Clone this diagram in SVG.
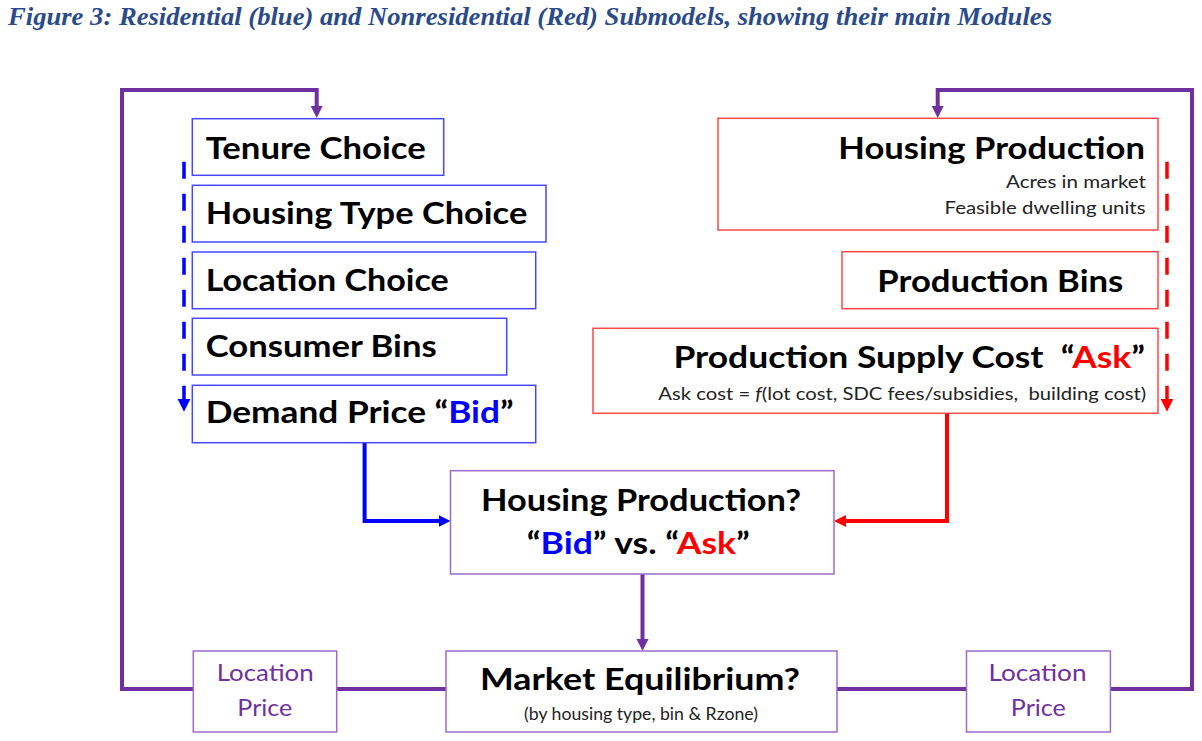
<svg xmlns="http://www.w3.org/2000/svg" width="1202" height="741" viewBox="0 0 1202 741">
<style>
.t{font-family:Lato,"Open Sans","Liberation Sans",sans-serif;font-weight:bold;font-size:30px;fill:#000}
.s{font-family:Lato,"Open Sans","Liberation Sans",sans-serif;font-size:17px;fill:#222}
.lp{font-family:Lato,"Open Sans","Liberation Sans",sans-serif;font-size:23px;fill:#7030A0}
.bb{fill:#fff;stroke:#4747FF;stroke-width:1.5}
.rb{fill:#fff;stroke:#FF4747;stroke-width:1.5}
.pb{fill:#fff;stroke:#9B6BCB;stroke-width:1.5}
.blue{fill:#0000FF}
.red{fill:#FF0000}
.pl{fill:none;stroke:#7030A0;stroke-width:4}
.bl{fill:none;stroke:#0000FF;stroke-width:4}
.rl{fill:none;stroke:#FF0000;stroke-width:4}
.bd{fill:none;stroke:#0000FF;stroke-width:3.5;stroke-dasharray:17 15}
.rd{fill:none;stroke:#FF0000;stroke-width:3.5;stroke-dasharray:17 15}
</style>
<defs>
<marker id="ap" markerUnits="userSpaceOnUse" markerWidth="14" markerHeight="14" refX="4" refY="6" orient="auto"><path d="M0,0 L12,6 L0,12 z" fill="#7030A0"/></marker>
<marker id="ab" markerUnits="userSpaceOnUse" markerWidth="14" markerHeight="14" refX="4" refY="6" orient="auto"><path d="M0,0 L12,6 L0,12 z" fill="#0000FF"/></marker>
<marker id="ar" markerUnits="userSpaceOnUse" markerWidth="14" markerHeight="14" refX="4" refY="6" orient="auto"><path d="M0,0 L12,6 L0,12 z" fill="#FF0000"/></marker>
<marker id="abs" markerUnits="userSpaceOnUse" markerWidth="14" markerHeight="15" refX="4" refY="6.5" orient="auto-start-reverse"><path d="M0,0 L13,6.5 L0,13 z" fill="#0000FF"/></marker>
<marker id="ars" markerUnits="userSpaceOnUse" markerWidth="14" markerHeight="15" refX="4" refY="6.5" orient="auto-start-reverse"><path d="M0,0 L13,6.5 L0,13 z" fill="#FF0000"/></marker>
</defs>
<rect width="1202" height="741" fill="#fff"/>
<text x="8" y="25" font-family="Liberation Serif" font-style="italic" font-weight="bold" font-size="25" fill="#2A4A8A" textLength="1044" lengthAdjust="spacingAndGlyphs">Figure 3: Residential (blue) and Nonresidential (Red) Submodels, showing their main Modules</text>

<g id="connectors">
<path class="pl" d="M193.3,689 H122 V90 H316.7 V110" marker-end="url(#ap)"/>
<path class="pl" d="M1110.4,689 H1192 V90 H937.7 V110" marker-end="url(#ap)"/>
<path class="pl" d="M336.7,689 H446"/>
<path class="pl" d="M837,689 H966.5"/>
<path class="pl" d="M642.5,574 V643" marker-end="url(#ap)"/>
<path class="bl" d="M364.6,442.7 V521 H442.5" marker-end="url(#ab)"/>
<path class="rl" d="M947,413.3 V521 H842" marker-end="url(#ar)"/>
<path class="bd" d="M184,402.7 V146.7" marker-start="url(#abs)"/>
<path class="rd" d="M1167,402.7 V146.7" marker-start="url(#ars)"/>
</g>

<g id="tenure"><rect class="bb" x="192.3" y="118.7" width="251.4" height="56.6"/><text class="t" x="205.7" y="158.7" textLength="220" lengthAdjust="spacingAndGlyphs">Tenure Choice</text></g>
<g id="housingType"><rect class="bb" x="192.3" y="185.3" width="353.7" height="56.7"/><text class="t" x="205.7" y="223.7" textLength="321.6" lengthAdjust="spacingAndGlyphs">Housing Type Choice</text></g>
<g id="location"><rect class="bb" x="192.3" y="252" width="343.4" height="56.7"/><text class="t" x="205.7" y="291" textLength="243" lengthAdjust="spacingAndGlyphs">Location Choice</text></g>
<g id="consumerBins"><rect class="bb" x="192.3" y="318.3" width="314.4" height="56.7"/><text class="t" x="205.7" y="356.7" textLength="231" lengthAdjust="spacingAndGlyphs">Consumer Bins</text></g>
<g id="demandPrice"><rect class="bb" x="192.3" y="385.3" width="343.4" height="57.4"/><text class="t" x="205.7" y="423.3" textLength="308" lengthAdjust="spacingAndGlyphs">Demand Price “<tspan class="blue">Bid</tspan>”</text></g>

<g id="housingProduction"><rect class="rb" x="718" y="118.3" width="440" height="111.7"/>
<text class="t" x="838.3" y="158.7" textLength="306.7" lengthAdjust="spacingAndGlyphs">Housing Production</text>
<text class="s" x="1006" y="188.3" textLength="140" lengthAdjust="spacingAndGlyphs">Acres in market</text>
<text class="s" x="944.5" y="214.3" textLength="201" lengthAdjust="spacingAndGlyphs">Feasible dwelling units</text></g>
<g id="productionBins"><rect class="rb" x="842" y="251.7" width="316" height="57"/><text class="t" x="877.3" y="291.7" textLength="246" lengthAdjust="spacingAndGlyphs">Production Bins</text></g>
<g id="supplyCost"><rect class="rb" x="593" y="328.3" width="565" height="85"/>
<text class="t" x="673.4" y="368.3" textLength="471.6" lengthAdjust="spacingAndGlyphs" xml:space="preserve">Production Supply Cost  “<tspan class="red">Ask</tspan>”</text>
<text class="s" x="658.3" y="400" textLength="488" lengthAdjust="spacingAndGlyphs" xml:space="preserve">Ask cost = <tspan font-style="italic">f</tspan>(lot cost, SDC fees/subsidies,  building cost)</text></g>

<g id="bidVsAsk"><rect class="pb" x="450.5" y="470.7" width="383.5" height="103.3"/>
<text class="t" x="481" y="511" textLength="320" lengthAdjust="spacingAndGlyphs">Housing Production?</text>
<text class="t" x="526.8" y="554" textLength="223" lengthAdjust="spacingAndGlyphs">“<tspan class="blue">Bid</tspan>” vs. “<tspan class="red">Ask</tspan>”</text></g>

<g id="marketEquilibrium"><rect class="pb" x="446" y="651" width="391" height="81"/>
<text class="t" x="480" y="690" textLength="320" lengthAdjust="spacingAndGlyphs">Market Equilibrium?</text>
<text class="s" x="524" y="720" font-size="15" textLength="234" lengthAdjust="spacingAndGlyphs">(by housing type, bin &amp; Rzone)</text></g>

<g id="locationPriceLeft"><rect class="pb" x="193.3" y="651" width="143.4" height="81"/>
<text class="lp" x="216.7" y="680.7" textLength="97" lengthAdjust="spacingAndGlyphs">Location</text>
<text class="lp" x="237.3" y="715.7" textLength="55" lengthAdjust="spacingAndGlyphs">Price</text></g>
<g id="locationPriceRight"><rect class="pb" x="966.5" y="651" width="143.9" height="81"/>
<text class="lp" x="988.5" y="680.7" textLength="98" lengthAdjust="spacingAndGlyphs">Location</text>
<text class="lp" x="1010.8" y="715.7" textLength="55" lengthAdjust="spacingAndGlyphs">Price</text></g>
</svg>
